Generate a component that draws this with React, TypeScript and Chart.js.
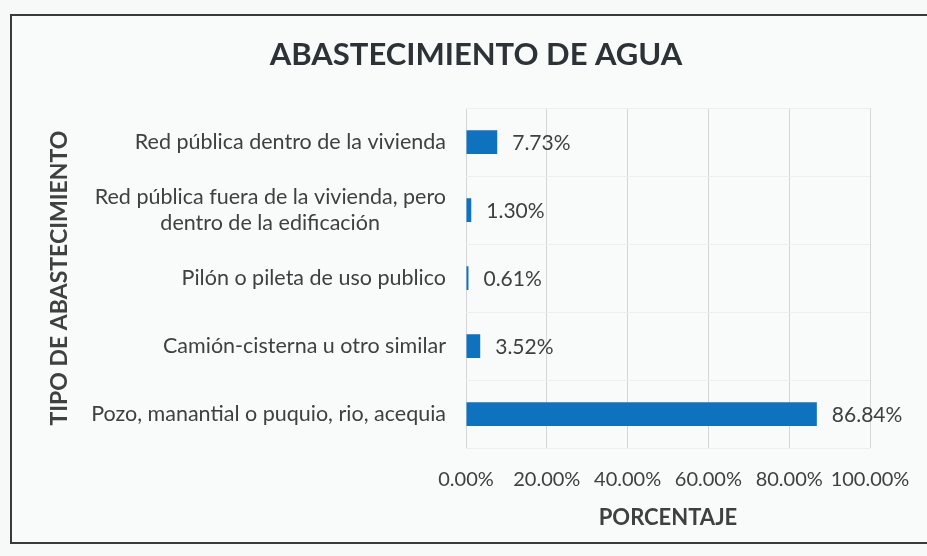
import React, { useEffect, useRef } from "react";
import { Chart, registerables } from "chart.js";

Chart.register(...registerables);

const TITLE = "ABASTECIMIENTO DE AGUA";
const X_TITLE = "PORCENTAJE";
const Y_TITLE = "TIPO DE ABASTECIMIENTO";
const categories: (string | string[])[] = [
  "Red pública dentro de la vivienda",
  ["Red pública fuera de la vivienda, pero", "dentro de la edificación"],
  "Pilón o pileta de uso publico",
  "Camión-cisterna u otro similar",
  "Pozo, manantial o puquio, rio, acequia",
];
const values = [7.73, 1.3, 0.61, 3.52, 86.84];
const xTickValues = [0, 20, 40, 60, 80, 100];

const FONT = "Lato, 'Open Sans', sans-serif";
const TEXT = "#404040";
const PAD_LEFT = 24;
const LABEL_SIZE = 21.5;

function centerLines(lines: string[], font: string): string[] {
  const c = document.createElement("canvas").getContext("2d")!;
  c.font = font;
  const widths = lines.map((l) => c.measureText(l).width);
  const max = Math.max(...widths);
  const sp = c.measureText("\u00a0").width || 4;
  return lines.map((l, i) => {
    const n = Math.round((max - widths[i]) / 2 / sp);
    return l + "\u00a0".repeat(n);
  });
}

const valueLabels = {
  id: "valueLabels",
  afterDatasetsDraw(chart: any) {
    const ctx = chart.ctx;
    const meta = chart.getDatasetMeta(0);
    ctx.save();
    ctx.font = `21px ${FONT}`;
    ctx.fillStyle = TEXT;
    ctx.textAlign = "left";
    ctx.textBaseline = "middle";
    meta.data.forEach((bar: any, i: number) => {
      ctx.fillText(values[i].toFixed(2) + "%", bar.x + 15, bar.y + 1);
    });
    ctx.restore();
  },
};

export default function App() {
  const ref = useRef<HTMLCanvasElement>(null);
  useEffect(() => {
    document.body.style.overflow = "hidden";
    document.body.style.background = "#f7f8f8";
    const tickFont = `${LABEL_SIZE}px ${FONT}`;
    const chart = new Chart(ref.current!, {
      type: "bar",
      data: {
        labels: categories as any,
        datasets: [
          {
            data: values,
            backgroundColor: "#0f72bf",
            barPercentage: 0.35,
            categoryPercentage: 1,
          },
        ],
      },
      plugins: [valueLabels],
      options: {
        indexAxis: "y",
        animation: false,
        responsive: false,
        layout: { padding: { left: PAD_LEFT, right: 11, bottom: 10, top: 0 } },
        plugins: {
          legend: { display: false },
          tooltip: { enabled: false },
          title: {
            display: true,
            text: TITLE,
            color: "#2d3236",
            font: { family: FONT, size: 31, weight: "bold" },
            padding: { top: 20, bottom: 35 },
          },
        },
        scales: {
          x: {
            min: 0,
            max: 100,
            afterBuildTicks: (s: any) => {
              s.ticks = xTickValues.map((v) => ({ value: v }));
            },
            afterFit: (s: any) => {
              s.height = 84;
              s.paddingRight = 57;
            },
            ticks: {
              color: TEXT,
              font: { family: FONT, size: 20 },
              padding: 20,
              maxRotation: 0,
              callback: (v: any) => Number(v).toFixed(2) + "%",
            },
            grid: { color: "#d4d6d8", drawTicks: false },
            border: { display: false },
            title: {
              display: true,
              text: X_TITLE,
              color: TEXT,
              font: { family: FONT, size: 22, weight: "bold" },
              padding: { top: 0, bottom: 1 },
            },
          },
          y: {
            afterFit: (s: any) => {
              s.width = 454 - PAD_LEFT;
              s.paddingTop = 0;
              s.paddingBottom = 0;
            },
            ticks: {
              color: TEXT,
              font: { family: FONT, size: LABEL_SIZE },
              padding: 20,
              callback: function (this: any, _v: any, i: number) {
                const l = categories[i];
                return Array.isArray(l) ? centerLines(l, tickFont) : l;
              },
            },
            grid: { color: "#eceeef", drawTicks: false, offset: true },
            border: { display: false },
            title: {
              display: true,
              text: Y_TITLE,
              color: TEXT,
              font: { family: FONT, size: 23, weight: "bold" },
              padding: { top: 10, bottom: 8 },
            },
          },
        },
      },
    });
    return () => chart.destroy();
  }, []);
  return (
    <div
      style={{
        position: "absolute",
        left: 10,
        top: 14,
        width: 917,
        height: 530,
        borderTop: "2px solid #3a3a3a",
        borderLeft: "2px solid #3a3a3a",
        borderBottom: "2px solid #3a3a3a",
        boxSizing: "border-box",
        background: "#f9fafa",
      }}
    >
      <canvas ref={ref} width={915} height={526} style={{ display: "block" }} />
    </div>
  );
}
